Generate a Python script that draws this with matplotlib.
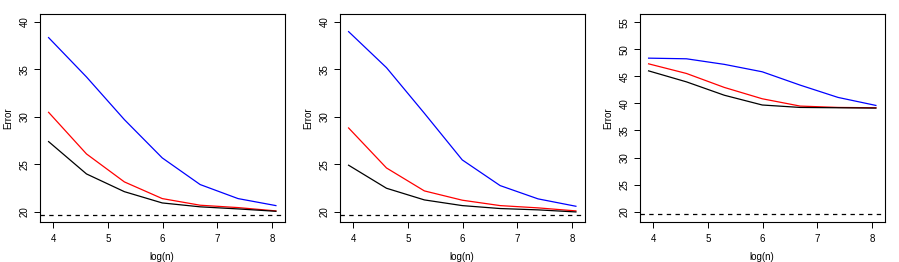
import numpy as np
import matplotlib
matplotlib.use("Agg")
import matplotlib.pyplot as plt

plt.rcParams['font.family'] = ['Liberation Sans', 'DejaVu Sans']

log_n = np.log([50, 100, 200, 400, 800, 1600, 3200])

p1_blue = [38.35, 34.2, 29.7, 25.66, 22.85, 21.37, 20.63]
p1_red = [30.47, 26.08, 23.13, 21.37, 20.67, 20.42, 20.07]
p1_black = [27.38, 23.97, 22.1, 20.91, 20.5, 20.28, 20.03]

p2_blue = [38.98, 35.18, 30.37, 25.45, 22.74, 21.34, 20.56]
p2_red = [28.82, 24.6, 22.18, 21.2, 20.63, 20.39, 20.07]
p2_black = [24.89, 22.46, 21.23, 20.63, 20.32, 20.18, 19.96]

p3_blue = [48.35, 48.23, 47.2, 45.83, 43.37, 41.1, 39.62]
p3_red = [47.3, 45.52, 42.94, 40.85, 39.5, 39.25, 39.19]
p3_black = [46.0, 43.97, 41.5, 39.7, 39.25, 39.19, 39.13]

bayes_err = 19.6

xticks = [4, 5, 6, 7, 8]
yticks_12 = [20, 25, 30, 35, 40]
yticks_3 = [20, 25, 30, 35, 40, 45, 50, 55]

panels = [
    (p1_blue, p1_red, p1_black, (18.9, 40.84), yticks_12),
    (p2_blue, p2_red, p2_black, (18.9, 40.84), yticks_12),
    (p3_blue, p3_red, p3_black, (18.1, 56.5), yticks_3),
]

W, H = 899, 262
fig = plt.figure(figsize=(W / 100, H / 100), dpi=100)

lefts = [39.5, 339.5, 639.5]
aw, ah = 245.5, 208
for (blue, red, black, ylim, yt), lx in zip(panels, lefts):
    ax = fig.add_axes([lx / W, 1 - 222 / H, aw / W, ah / H])
    ax.plot(log_n, blue, color='blue', lw=0.9)
    ax.plot(log_n, red, color='red', lw=0.9)
    ax.plot(log_n, black, color='black', lw=0.9)
    ax.axhline(bayes_err, color='black', lw=0.9, ls=(0, (3.5, 3.5)))
    xr = log_n.max() - log_n.min()
    ax.set_xlim(log_n.min() - 0.04 * xr, log_n.max() + 0.04 * xr)
    ax.set_ylim(*ylim)
    ax.set_xticks(xticks)
    ax.set_yticks(yt)
    ax.set_yticklabels([str(v) for v in yt], rotation=90, va='center')
    ax.tick_params(labelsize=7, length=4.5, width=0.7, colors='black')
    ax.tick_params(axis='y', pad=2.5)
    ax.tick_params(axis='x', pad=4)
    for s in ax.spines.values():
        s.set_linewidth(0.8)
    ax.set_xlabel('log(n)', fontsize=7, va='center')
    ax.xaxis.set_label_coords(0.5, (222 - 257) / ah)
    ax.set_ylabel('Error', fontsize=7, va='center')
    ax.yaxis.set_label_coords((8 - 39.5) / aw, 0.5)

fig.savefig('out.png', dpi=100)
